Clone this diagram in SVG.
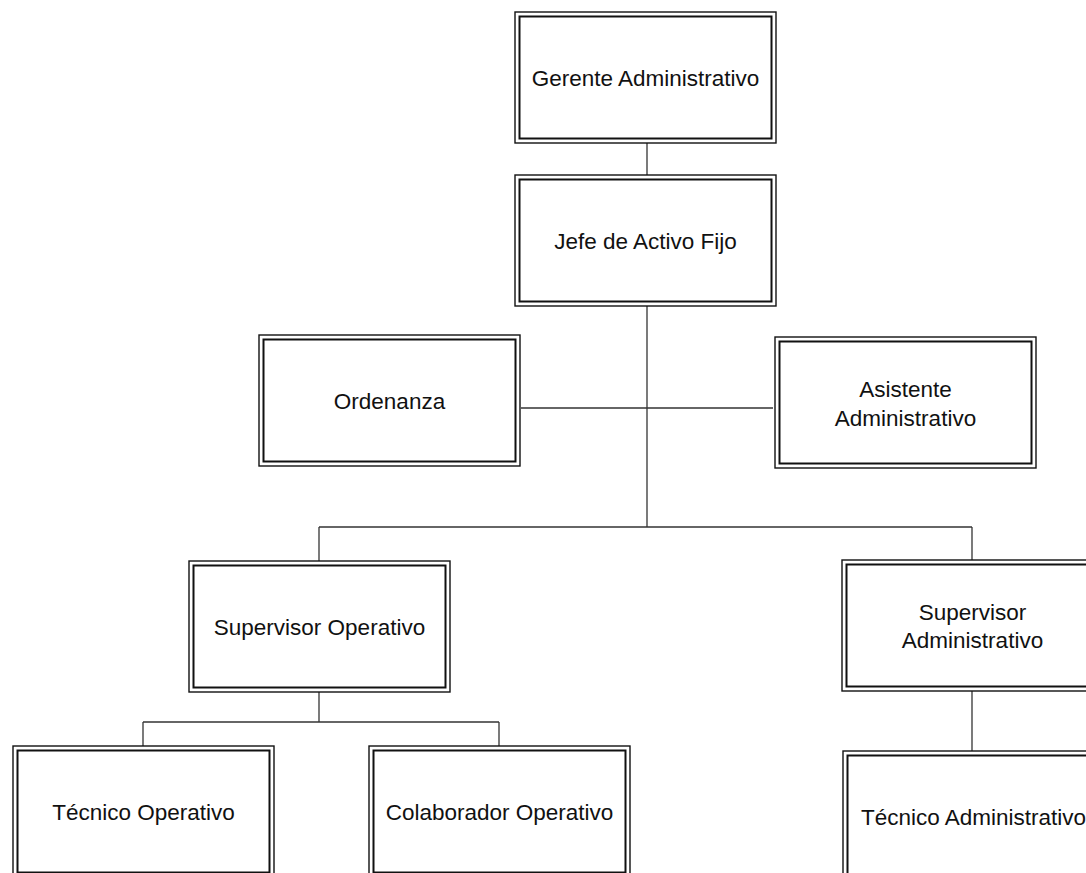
<svg xmlns="http://www.w3.org/2000/svg" width="1086" height="873" viewBox="0 0 1086 873">
  <style>
    .outer { fill: #ffffff; stroke: #111111; stroke-width: 1.4; }
    .inner { fill: none; stroke: #111111; stroke-width: 2; }
    .lbl { font-family: "Liberation Sans", Arial, sans-serif; font-size: 22.5px; fill: #111111; text-anchor: middle; }
    .conn line { stroke: #333333; stroke-width: 1.3; }
  </style>
  <defs>
    <!-- double-bordered box, 261 x 131 -->
    <g id="box">
      <rect class="outer" x="0" y="0" width="261" height="131"/>
      <rect class="inner" x="4.5" y="4.5" width="252" height="122"/>
    </g>
  </defs>

  <rect width="1086" height="873" fill="#ffffff"/>

  <g id="connectors" class="conn">
    <line x1="647" y1="143" x2="647" y2="175"/>
    <line x1="647" y1="306" x2="647" y2="527"/>
    <line x1="521" y1="408" x2="773" y2="408"/>
    <line x1="319" y1="527" x2="972" y2="527"/>
    <line x1="319" y1="527" x2="319" y2="561"/>
    <line x1="972" y1="527" x2="972" y2="560"/>
    <line x1="319" y1="692" x2="319" y2="722"/>
    <line x1="143" y1="722" x2="499" y2="722"/>
    <line x1="143" y1="722" x2="143" y2="746"/>
    <line x1="499" y1="722" x2="499" y2="746"/>
    <line x1="972" y1="691" x2="972" y2="751"/>
  </g>

  <g id="gerente-administrativo" transform="translate(515,12)">
    <use href="#box"/>
    <text class="lbl" x="130.5" y="73.5">Gerente Administrativo</text>
  </g>

  <g id="jefe-activo-fijo" transform="translate(515,175)">
    <use href="#box"/>
    <text class="lbl" x="130.5" y="73.5">Jefe de Activo Fijo</text>
  </g>

  <g id="ordenanza" transform="translate(259,335)">
    <use href="#box"/>
    <text class="lbl" x="130.5" y="73.5">Ordenanza</text>
  </g>

  <g id="asistente-administrativo" transform="translate(775,337)">
    <use href="#box"/>
    <text class="lbl" x="130.5" y="60">Asistente</text>
    <text class="lbl" x="130.5" y="89">Administrativo</text>
  </g>

  <g id="supervisor-operativo" transform="translate(189,561)">
    <use href="#box"/>
    <text class="lbl" x="130.5" y="73.5">Supervisor Operativo</text>
  </g>

  <g id="supervisor-administrativo" transform="translate(842,560)">
    <use href="#box"/>
    <text class="lbl" x="130.5" y="60">Supervisor</text>
    <text class="lbl" x="130.5" y="88">Administrativo</text>
  </g>

  <g id="tecnico-operativo" transform="translate(13,746)">
    <use href="#box"/>
    <text class="lbl" x="130.5" y="73.5">Técnico Operativo</text>
  </g>

  <g id="colaborador-operativo" transform="translate(369,746)">
    <use href="#box"/>
    <text class="lbl" x="130.5" y="73.5">Colaborador Operativo</text>
  </g>

  <g id="tecnico-administrativo" transform="translate(843,751)">
    <use href="#box"/>
    <text class="lbl" x="130.5" y="73.5">Técnico Administrativo</text>
  </g>
</svg>
